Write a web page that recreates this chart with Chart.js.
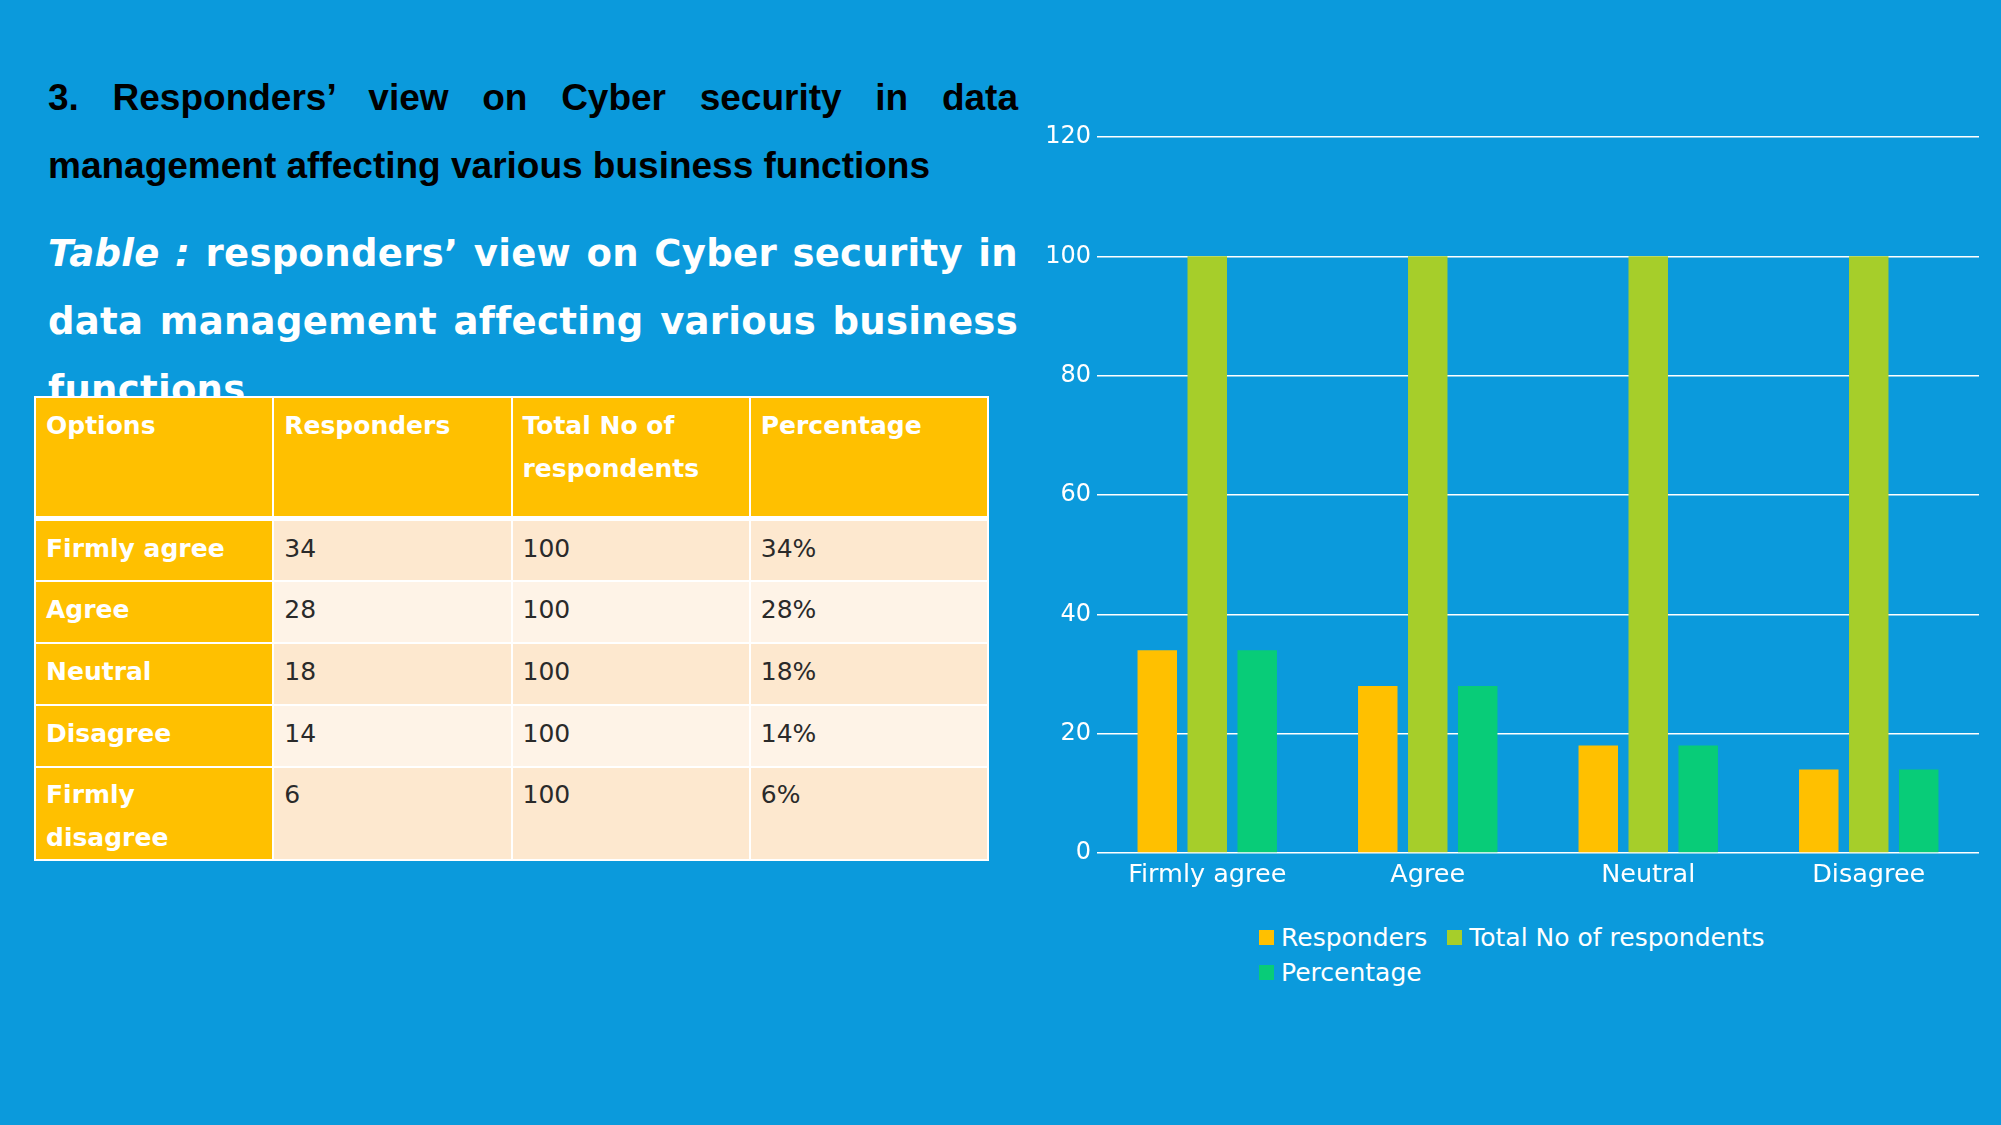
<!DOCTYPE html>
<html>
<head>
<meta charset="utf-8">
<script src="https://cdn.jsdelivr.net/npm/chart.js@4.4.0/dist/chart.umd.min.js"></script>
<style>
    html, body { margin: 0; padding: 0; }
    body {
        width: 2001px; height: 1125px; overflow: hidden;
        background: #0b9adc; position: relative;
        font-family: 'DejaVu Sans', sans-serif;
    }
    .heading {
        position: absolute; left: 48px; top: 64px; width: 970px;
        font-family: 'Liberation Sans', Arial, sans-serif; font-weight: bold;
        font-size: 37px; line-height: 68px; color: #000;
        text-align: justify;
    }
    .caption {
        position: absolute; left: 48px; top: 220px; width: 970px; height: 176px;
        overflow: hidden;
        font-weight: bold; font-size: 37px; line-height: 68px; color: #fff;
        text-align: justify; letter-spacing: 0.3px;
    }
    .caption i { font-style: oblique; }
    table {
        position: absolute; left: 34px; top: 396px; width: 955px;
        border-collapse: collapse; table-layout: fixed;
        font-size: 25px; line-height: 43px;
    }
    td, th {
        border: 2px solid #fff; padding: 6px 10px; vertical-align: top;
        text-align: left; color: #2a2a2a;
    }
    th { background: #ffc000; color: #fff; font-weight: bold; height: 106px; border-bottom-width: 5px; }
    td.opt { background: #ffc000; color: #fff; font-weight: bold; padding-right: 34px; }
    tr.odd td { background: #fde8cf; }
    tr.even td { background: #fef3e7; }
    tr td.opt { background: #ffc000; }
    tr.last td { padding-bottom: 0; padding-top: 5px; }
    #wrap { position: absolute; left: 1000px; top: 100px; width: 990px; height: 800px; }
    #legend {
        position: absolute; left: 1259px; top: 920px; width: 560px;
        color: #fff; font-size: 25px; line-height: 35px;
    }
    #legend span.item { display: inline-block; margin-right: 20px; white-space: nowrap; }
    #legend span.box { display: inline-block; width: 15px; height: 15px; margin-right: 7px; vertical-align: 1px; }
</style>
</head>
<body>
<div class="heading">3. Responders’ view on Cyber security in data management affecting various business functions</div>
<div class="caption"><i>Table :</i> responders’ view on Cyber security in data management affecting various business functions</div>

<table id="tbl"></table>

<div id="wrap"><canvas id="barChart"></canvas></div>
<div id="legend"></div>

<script>
const categories = ['Firmly agree', 'Agree', 'Neutral', 'Disagree'];
const responders = [34, 28, 18, 14];
const totalRespondents = [100, 100, 100, 100];
const percentage = [34, 28, 18, 14];

const tableHead = ['Options', 'Responders', 'Total No of respondents', 'Percentage'];
const tableOptions = ['Firmly agree', 'Agree', 'Neutral', 'Disagree', 'Firmly disagree'];
const tableResponders = ['34', '28', '18', '14', '6'];
const tableTotal = ['100', '100', '100', '100', '100'];
const tablePercent = ['34%', '28%', '18%', '14%', '6%'];

// table
const tbl = document.getElementById('tbl');
let html = '<tr>' + tableHead.map(h => `<th>${h}</th>`).join('') + '</tr>';
tableOptions.forEach((opt, i) => {
    let cls = i % 2 === 0 ? 'odd' : 'even';
    if (i === tableOptions.length - 1) cls += ' last';
    const h = i === 4 ? 91 : 62;
    html += `<tr class="${cls}" style="height:${h}px"><td class="opt">${opt}</td><td>${tableResponders[i]}</td><td>${tableTotal[i]}</td><td>${tablePercent[i]}</td></tr>`;
});
tbl.innerHTML = html;

Chart.defaults.font.family = "'DejaVu Sans', sans-serif";
Chart.defaults.color = '#fff';

const ctx = document.getElementById('barChart').getContext('2d');
const chart = new Chart(ctx, {
    type: 'bar',
    data: {
        labels: categories,
        datasets: [
            { label: 'Responders', data: responders, backgroundColor: '#ffc000' },
            { label: 'Total No of respondents', data: totalRespondents, backgroundColor: '#a6ce2a' },
            { label: 'Percentage', data: percentage, backgroundColor: '#08cc78' }
        ]
    },
    options: {
        responsive: true,
        maintainAspectRatio: false,
        animation: false,
        categoryPercentage: 0.68,
        barPercentage: 0.79,
        layout: { padding: { top: 37, right: 11, bottom: 0, left: 0 } },
        plugins: {
            legend: { display: false },
            tooltip: { enabled: false }
        },
        scales: {
            x: {
                grid: { display: false },
                border: { display: false },
                ticks: { color: '#fff', font: { size: 25.5 }, padding: -1 },
                afterFit: (s) => { s.height = 47; }
            },
            y: {
                min: 0,
                max: 120,
                ticks: { stepSize: 20, color: '#fff', font: { size: 24 }, padding: 6 },
                grid: { color: '#ffffff', lineWidth: 1.5, drawTicks: false },
                border: { display: false },
                afterFit: (s) => { s.width = 97; }
            }
        }
    }
});

// legend from the datasets
const legend = document.getElementById('legend');
legend.innerHTML = chart.data.datasets.map(ds =>
    `<span class="item"><span class="box" style="background:${ds.backgroundColor}"></span>${ds.label}</span>`
).join('');
</script>
</body>
</html>
